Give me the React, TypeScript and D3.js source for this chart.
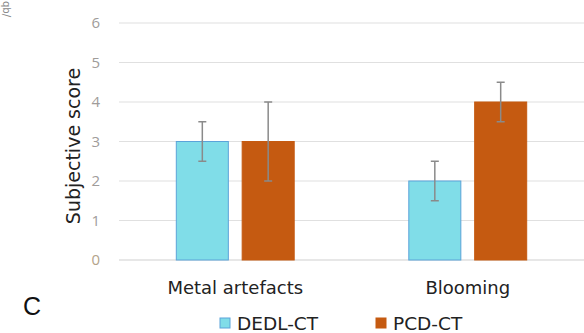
import React from "react";
import * as d3 from "d3";

const categories = ["Metal artefacts", "Blooming"];
const seriesNames = ["DEDL-CT", "PCD-CT"];
const dedlValues = [3, 2];
const dedlErr = [0.5, 0.5];
const pcdValues = [3, 4];
const pcdErr = [1, 0.5];
const yTicks = [0, 1, 2, 3, 4, 5, 6];
const colors = ["#80DDE8", "#C55A11"];
const strokeColors = ["#5BA3D9", "#C55A11"];

const W = 584;
const H = 333;

export default function App() {
  const x = d3.scaleBand<string>().domain(categories).range([119, 584]).paddingInner(0).paddingOuter(0);
  const x1 = d3.scaleBand<string>().domain(seriesNames).range([0, x.bandwidth()]).paddingInner(0.21).paddingOuter(0.87);
  const y = d3.scaleLinear().domain([0, 6]).range([260, 23]);
  const values = [dedlValues, pcdValues];
  const errs = [dedlErr, pcdErr];
  const legendX = [220, 376];

  return (
    <svg width={W} height={H} style={{ position: "absolute", left: 0, top: 0, background: "#fff" }}>
      <rect width={W} height={H} fill="#fff" />
      <text transform="translate(3,1) rotate(90)" fontSize={10} fill="#888" fontFamily="DejaVu Sans">qb/</text>
      {yTicks.map((t) => (
        <g key={t}>
          <line x1={119} x2={584} y1={y(t)} y2={y(t)} stroke={t === 0 ? "#d0d0d0" : "#e0e0e0"} strokeWidth={1.2} />
          <text x={100} y={y(t)} dy="0.36em" textAnchor="end" fontSize={15} fill={t === 0 ? "#b3a38a" : "#a09c9a"} fontFamily="Open Sans">
            {t}
          </text>
        </g>
      ))}
      {categories.map((c, i) => (
        <g key={c} transform={`translate(${x(c)},0)`}>
          {seriesNames.map((s, j) => {
            const v = values[j][i];
            const e = errs[j][i];
            const bx = x1(s)!;
            const bw = x1.bandwidth();
            const cx = bx + bw / 2;
            return (
              <g key={s}>
                <rect x={bx} y={y(v)} width={bw} height={y(0) - y(v)} fill={colors[j]} stroke={strokeColors[j]} strokeWidth={1} />
                <line x1={cx} x2={cx} y1={y(v + e)} y2={y(v - e)} stroke="#8a8a8a" strokeWidth={1.5} />
                <line x1={cx - 4} x2={cx + 4} y1={y(v + e)} y2={y(v + e)} stroke="#8a8a8a" strokeWidth={1.5} />
                <line x1={cx - 4} x2={cx + 4} y1={y(v - e)} y2={y(v - e)} stroke="#8a8a8a" strokeWidth={1.5} />
              </g>
            );
          })}
          <text x={x.bandwidth() / 2} y={294} textAnchor="middle" fontSize={18} fill="#222" fontFamily="DejaVu Sans">
            {c}
          </text>
        </g>
      ))}
      <text transform="translate(80,146) rotate(-90)" textAnchor="middle" fontSize={19} fill="#222" fontFamily="DejaVu Sans">
        Subjective score
      </text>
      <text x={23} y={315} fontSize={25} fill="#111" fontFamily="Liberation Sans">C</text>
      {seriesNames.map((s, j) => {
        const lx = legendX[j];
        return (
          <g key={s}>
            <rect x={lx} y={318} width={10} height={10} fill={colors[j]} stroke={strokeColors[j]} strokeWidth={1} />
            <text x={lx + 17} y={330} fontSize={18.5} fill="#222" fontFamily="DejaVu Sans">{s}</text>
          </g>
        );
      })}
    </svg>
  );
}
